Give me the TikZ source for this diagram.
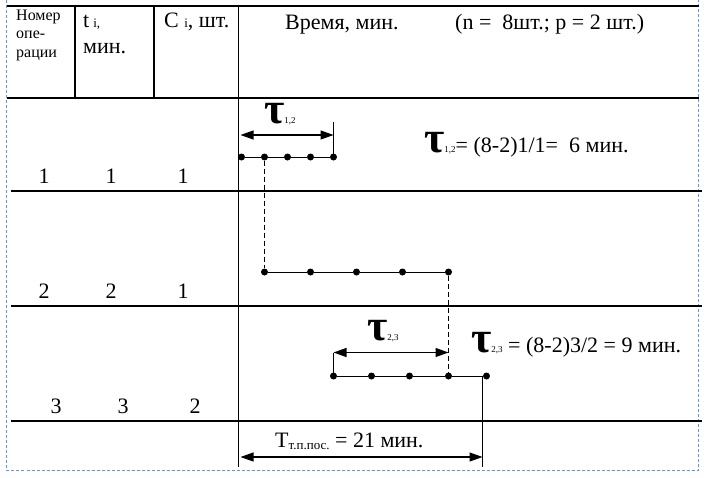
\documentclass[tikz,border=0pt]{standalone}
\usepackage{fontspec}
\setmainfont{Liberation Serif}
\usetikzlibrary{arrows.meta}
\newcommand\fsz[1]{\fontsize{#1}{#1}\selectfont}
\newcommand\tauof[1]{{\fsz{44}\bfseries τ}{\fsz{9}#1}}
\begin{document}
\begin{tikzpicture}[x=1pt,y=-1pt,
  tbl/.style={line width=1.2pt},
  gline/.style={line width=1pt},
  dot/.style={circle, fill, inner sep=0pt, minimum size=7pt},
  txt/.style={anchor=base west, inner sep=0pt, font=\rmfamily\fsz{22}},
  num/.style={anchor=base, inner sep=0pt, font=\rmfamily\fsz{22}},
  dimarrow/.style={line width=1.1pt, {Triangle[length=13pt,width=9pt]}-{Triangle[length=13pt,width=9pt]}},
  dash line/.style={line width=1pt, dash pattern=on 5pt off 3pt},
  margin/.style={line width=0.8pt, draw={rgb,255:red,91;green,155;blue,225}, dash pattern=on 3pt off 2pt}]
\useasboundingbox (0,0) rectangle (706,477);
\fill[white] (0,0) rectangle (706,477);
% margin markers
\draw[margin] (6.5,0) -- (6.5,470) -- (698.5,470) -- (698.5,0);
% table
\draw[tbl] (6.5,6) -- (698.5,6);
\draw[tbl] (7,98) -- (698.5,98);
\draw[tbl] (11,191) -- (702,191);
\draw[tbl] (11,306) -- (702,306);
\draw[tbl] (11,421) -- (702,421);
\draw[tbl] (75,6) -- (75,98);
\draw[tbl] (154,6) -- (154,98);
\draw[tbl] (238.5,6) -- (238.5,467);
% header
\node[txt, font=\rmfamily\fsz{16}] (h1a) at (16,20) {Номер};
\node[txt, font=\rmfamily\fsz{16}] (h1b) at (16,38.5) {опе-};
\node[txt, font=\rmfamily\fsz{16}] (h1c) at (16,57) {рации};
\node[txt] (h2a) at (83,27) {t\hspace{4pt}{\fsz{13}i,}};
\node[txt] (h2b) at (83,53) {мин.};
\node[txt] (h3) at (164,27) {C {\fsz{13}i}, шт.};
\node[txt] (h4) at (285,29) {Время, мин.};
\node[txt] (h5) at (455,29) {(n =\ \ 8шт.; p = 2 шт.)};
% row numbers
\node[num] (r1a) at (44,183) {1};
\node[num] (r1b) at (111,183) {1};
\node[num] (r1c) at (183,183) {1};
\node[num] (r2a) at (44,298) {2};
\node[num] (r2b) at (111,298) {2};
\node[num] (r2c) at (183,298) {1};
\node[num] (r3a) at (56,413) {3};
\node[num] (r3b) at (123,413) {3};
\node[num] (r3c) at (195,413) {2};
% row 1 chart
\node[dot] (a1) at (241.5,157) {};
\node[dot] (a2) at (264.5,157) {};
\node[dot] (a3) at (287.5,157) {};
\node[dot] (a4) at (310.5,157) {};
\node[dot] (a5) at (333.5,157) {};
\draw[gline] (a1) -- (a2) -- (a3) -- (a4) -- (a5);
\coordinate (a5t) at (333.5,122);
\draw[gline] (a5.center) -- (a5t);
\coordinate (d1l) at (240.5,135);
\coordinate (d1r) at (333.5,135);
\draw[dimarrow] (d1l) -- (d1r);
\node[txt] (t12) at (264,123) {\tauof{1,2}};
\node[txt] (e12) at (424,152) {\tauof{1,2}{\fsz{22}= (8-2)1/1=\ \ 6 мин.}};
% row 2 chart
\node[dot] (b1) at (264.5,272) {};
\node[dot] (b2) at (310.5,272) {};
\node[dot] (b3) at (356.5,272) {};
\node[dot] (b4) at (402.5,272) {};
\node[dot] (b5) at (448.5,272) {};
\draw[gline] (b1) -- (b2) -- (b3) -- (b4) -- (b5);
\draw[dash line] (a2) -- (b1);
% row 3 chart
\node[dot] (c1) at (333.5,376) {};
\node[dot] (c2) at (371.5,376) {};
\node[dot] (c3) at (409.5,376) {};
\node[dot] (c4) at (448.5,376) {};
\node[dot] (c5) at (486.5,376) {};
\draw[gline] (c1) -- (c2) -- (c3) -- (c4) -- (c5);
\draw[dash line] (b5) -- (c4);
\coordinate (c1t) at (333.5,352.5);
\coordinate (d2r) at (448.5,352.5);
\draw[gline] (c1.center) -- (c1t);
\draw[dimarrow] (c1t) -- (d2r);
\node[txt] (t23) at (367,340) {\tauof{2,3}};
\node[txt] (e23) at (471,352) {\tauof{2,3}{\fsz{22} = (8-2)3/2\ = 9 мин.}};
% total
\coordinate (ct) at (482.5,376);
\coordinate (cb) at (482.5,467);
\draw[gline] (ct) -- (cb);
\coordinate (d3l) at (240.5,457);
\coordinate (d3r) at (482.5,457);
\draw[dimarrow] (d3l) -- (d3r);
\node[txt] (tt) at (275,447) {T\raisebox{-2.5pt}{\fsz{13}т.п.пос.} = 21 мин.};
\end{tikzpicture}
\end{document}
